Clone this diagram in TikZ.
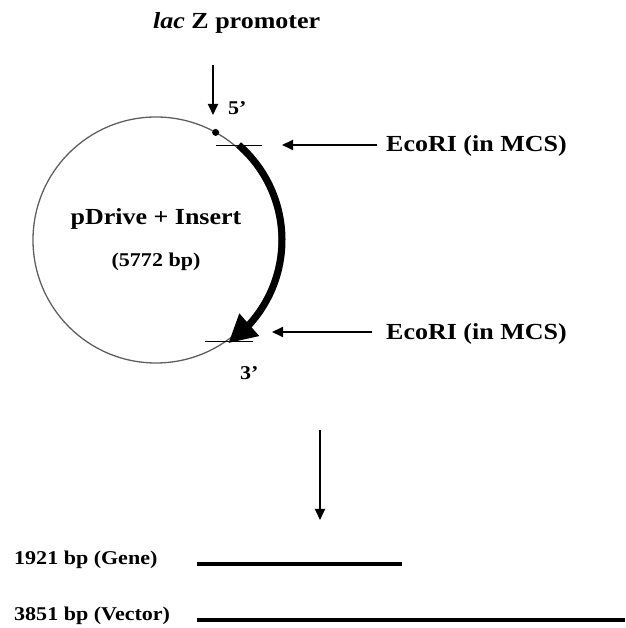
\documentclass[tikz,border=0pt]{standalone}
\usepackage{fontspec}
\setmainfont{Liberation Serif}[FakeStretch=1.13]
\usepackage{tikz}
\definecolor{ringgray}{RGB}{95, 95, 95}
\usetikzlibrary{arrows.meta, bending}

\begin{document}
\begin{tikzpicture}[x=1pt, y=1pt,
			>={Triangle[length=11pt, width=10pt]},   %Pfeilspitzen
			lbl/.style={inner sep=0pt, anchor=base west, font=\bfseries\fontsize{23}{27}\selectfont},
			small/.style={inner sep=0pt, anchor=base west, font=\bfseries\fontsize{19.5}{23}\selectfont},
			ptr/.style={->, line width=1.8pt},
			cut/.style={line width=1pt},
			band/.style={line width=4pt}]
			\useasboundingbox (0,0) rectangle (625,628);
			%Plasmid zeichnen
			\node[circle, draw=ringgray, line width=1.3pt, minimum size=246pt, inner sep=0pt] (plasmid) at (156,388) {};
			\node[lbl, anchor=base] (name) at (156,403) {pDrive + Insert};
			\node[small, anchor=base] (size) at (156,361) {(5772 bp)};
			% Promotor
			\coordinate (promoter) at (213,513);
			\node[lbl] (lacZ) at (153,599) {\textit{lac} Z promoter};
			\draw[ptr, shorten <=31pt] (promoter |- lacZ.south) -- (promoter);
			\fill ([shift={(61:123)}]plasmid.center) circle (3.5);
			\node[small] (fiveEnd) at (228,513) {5'};
			% Insert mit Pfeil
			\draw[line width=7pt, -{Triangle[length=28pt, width=28pt]}] ([shift={(49:126)}]plasmid.center) arc[start angle=49, end angle=-55, radius=126pt];
			\node[small] (threeEnd) at (240,248) {3'};
			% Schnittstellen
			\coordinate (cutA) at (239,482);
			\coordinate (cutB) at (229,286);
			\draw[cut] ([xshift=-23pt]cutA) -- ([xshift=23pt]cutA);
			\draw[cut] ([xshift=-24pt]cutB) -- ([xshift=24pt]cutB);
			\node[lbl] (ecoA) at (386,476) {EcoRI (in MCS)};
			\node[lbl] (ecoB) at (386,288) {EcoRI (in MCS)};
			\coordinate (tipA) at (282,483);
			\coordinate (tipB) at (272,296);
			\draw[ptr, shorten <=9pt] (ecoA.west |- tipA) -- (tipA);
			\draw[ptr, shorten <=14pt] (ecoB.west |- tipB) -- (tipB);
			% Verdau
			\coordinate (digest) at (320,198);
			\coordinate (fragments) at (320,108);
			\draw[ptr] (digest) -- (fragments);
			% Fragmente
			\node[small] (gene) at (14,63) {1921 bp (Gene)};
			\node[small] (vector) at (14,8) {3851 bp (Vector)};
			\coordinate (geneL) at (197,64);
			\coordinate (geneR) at (402,64);
			\coordinate (vectorL) at (197,8);
			\coordinate (vectorR) at (625,8);
			\draw[band] (geneL) -- (geneR);
			\draw[band] (vectorL) -- (vectorR);
		\end{tikzpicture}
\end{document}
